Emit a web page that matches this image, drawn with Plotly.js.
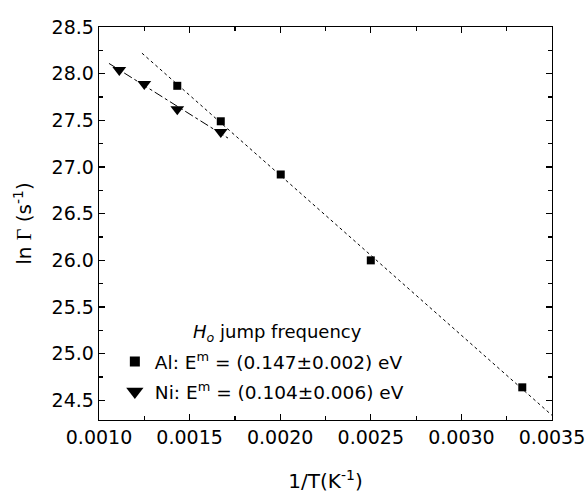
<!DOCTYPE html>
<html><head><meta charset="utf-8">
<script src="https://cdn.plot.ly/plotly-3.0.1.min.js"></script>
<style>body{margin:0;background:#fff}#plot{width:587px;height:493px}</style>
</head><body><div id="plot"></div>
<script>
// Al data
const alX = [0.001432, 0.001672, 0.002003, 0.0025, 0.003336];
const alY = [27.87, 27.49, 26.92, 26.0, 24.64];
// Ni data
const niX = [0.001112, 0.00125, 0.001432, 0.001672];
const niY = [28.04, 27.89, 27.62, 27.375];
// Linear fits (endpoints)
const alFitX = [0.001237, 0.0035];
const alFitY = [28.22, 24.34];
const niFitX = [0.001055, 0.001712];
const niFitY = [28.11, 27.31];

const legendTitle = '<i>H</i><sub><i>o</i></sub> jump frequency';
const alName = 'Al: E<sup>m</sup> = (0.147\u00b10.002) eV';
const niName = 'Ni: E<sup>m</sup> = (0.104\u00b10.006) eV';

const font = 'DejaVu Sans, Liberation Sans, Arial, sans-serif';

const traces = [
  {x: alFitX, y: alFitY, mode: 'lines', line: {color: '#000', width: 1, dash: 'dot'}, showlegend: false, hoverinfo: 'skip'},
  {x: niFitX, y: niFitY, mode: 'lines', line: {color: '#000', width: 1, dash: 'dashdot'}, showlegend: false, hoverinfo: 'skip'},
  {x: alX, y: alY, mode: 'markers', name: alName, legendgroup: 'al', showlegend: false, marker: {symbol: 'square', size: 8, color: '#000'}},
  {x: niX, y: niY, mode: 'markers', name: niName, legendgroup: 'ni', showlegend: false, marker: {symbol: 'triangle-down', size: 12, color: '#000'}},
  // legend entries (larger symbols as in the reference legend)
  {x: [null], y: [null], mode: 'markers', name: alName, legendgroup: 'al', marker: {symbol: 'square', size: 10, color: '#000'}},
  {x: [null], y: [null], mode: 'markers', name: niName, legendgroup: 'ni', marker: {symbol: 'triangle-down', size: 15, color: '#000'}}
];

const axisCommon = {
  showgrid: false, zeroline: false, showline: true, mirror: 'ticks',
  linecolor: '#000', linewidth: 1.3, ticks: 'inside', ticklen: 6, tickwidth: 1.3, tickcolor: '#000',
  tickfont: {family: font, size: 19, color: '#000'}
};

const layout = {
  width: 587, height: 493,
  margin: {l: 99, r: 35, t: 27, b: 73},
  paper_bgcolor: '#fff', plot_bgcolor: '#fff',
  font: {family: font, color: '#000'},
  xaxis: Object.assign({}, axisCommon, {
    range: [0.0010, 0.0035], dtick: 0.0005, tick0: 0.0010, tickformat: '.4f',
    minor: {ticks: 'inside', ticklen: 4, tickwidth: 1.2, tickcolor: '#000', dtick: 0.00025},
    title: {text: '1/T(K<sup>-1</sup>)', font: {family: font, size: 20, color: '#000'}, standoff: 29}
  }),
  yaxis: Object.assign({}, axisCommon, {
    range: [24.29, 28.5], dtick: 0.5, tick0: 24.5, tickformat: '.1f',
    minor: {ticks: 'inside', ticklen: 4, tickwidth: 1.2, tickcolor: '#000', dtick: 0.25},
    title: {text: 'ln <span style="font-family:Liberation Serif, Times New Roman, serif">\u0393</span> (s<sup>-1</sup>)', font: {family: font, size: 20, color: '#000'}, standoff: 14}
  }),
  legend: {
    x: 0.035, y: 0.196, xanchor: 'left', yanchor: 'top',
    bgcolor: 'rgba(0,0,0,0)', borderwidth: 0,
    font: {family: font, size: 18.5, color: '#000'},
    tracegroupgap: 3, itemwidth: 30
  },
  annotations: [{
    text: legendTitle, xref: 'paper', yref: 'paper', x: 0.393, y: 0.222,
    xanchor: 'center', yanchor: 'middle', showarrow: false,
    font: {family: font, size: 18, color: '#000'}
  }],
  showlegend: true
};

Plotly.newPlot('plot', traces, layout, {displayModeBar: false, staticPlot: true});
</script>
</body></html>
